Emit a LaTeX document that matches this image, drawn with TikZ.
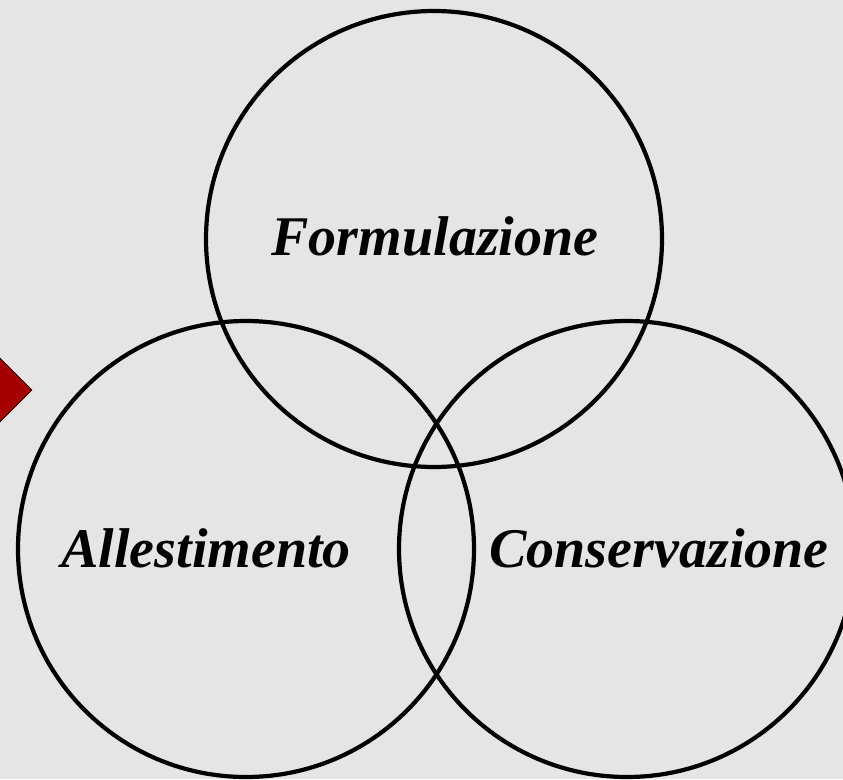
\documentclass[tikz,border=0pt]{standalone}
\usepackage{fontspec}
\setmainfont{Liberation Serif}
\usetikzlibrary{shapes.geometric}
\definecolor{bggray}{RGB}{229,229,229}
\definecolor{darkred}{RGB}{165,0,0}
\begin{document}
\begin{tikzpicture}[x=1pt,y=-1pt,
  ring/.style={circle,draw=black,line width=4.2pt,inner sep=0pt,minimum size=456pt},
  label/.style={anchor=base,inner sep=0pt,font=\fontsize{56}{60}\selectfont\bfseries\itshape},
  pointer/.style={diamond,draw=black,line width=0.8pt,fill=darkred,inner sep=0pt,minimum width=66pt,minimum height=66pt}]
\fill[bggray] (0,0) rectangle (843,779);
\useasboundingbox (0,0) rectangle (843,779);
\node[pointer] (arrow) at (-1,390) {};
\node[ring] (top) at (434,239) {};
\node[ring] (left) at (246,549) {};
\node[ring] (right) at (627,549) {};
\node[label] (formul) at (435,255) {Formulazione};
\node[label] (allest) at (206,567) {Allestimento};
\node[label] (conserv) at (659,567) {Conservazione};
\end{tikzpicture}
\end{document}
